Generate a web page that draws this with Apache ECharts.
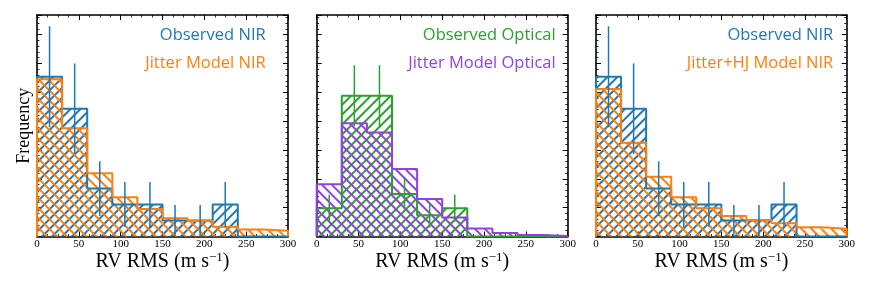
<!DOCTYPE html>
<html><head><meta charset="utf-8">
<script src="https://cdn.jsdelivr.net/npm/echarts@6/dist/echarts.min.js"></script>
<style>html,body{margin:0;padding:0;background:#fff}#c{width:872px;height:291px}</style>
</head><body><div id="c"></div>
<script>
// ---- data ----
const binEdges = [0, 30, 60, 90, 120, 150, 180, 210, 240, 270, 300];
const binLabels = ['0-30','30-60','60-90','90-120','120-150','150-180','180-210','210-240','240-270','270-300'];
const xTicks = [0, 50, 100, 150, 200, 250, 300];
const obsNIR      = [5.54, 4.43, 1.66, 1.11, 1.11, 0.554, 0.554, 1.11, 0, 0];
const obsNIRErr   = [1.75, 1.57, 0.95, 0.78, 0.78, 0.54, 0.54, 0.78, 0, 0];
const jitterNIR   = [5.45, 3.75, 2.19, 1.36, 0.95, 0.63, 0.54, 0.34, 0.24, 0.20];
const obsOpt      = [0.98, 4.88, 4.88, 1.47, 0.735, 0.98, 0, 0, 0, 0];
const obsOptErr   = [0.47, 1.06, 1.06, 0.58, 0.43, 0.47, 0, 0, 0, 0];
const jitterOpt   = [1.81, 3.93, 3.61, 2.34, 1.30, 0.66, 0.28, 0.12, 0.05, 0.02];
const jitterHJNIR = [5.11, 3.25, 2.07, 1.36, 0.98, 0.71, 0.57, 0.46, 0.32, 0.27];
const legendTexts = [
  ['Observed NIR', 'Jitter Model NIR'],
  ['Observed Optical', 'Jitter Model Optical'],
  ['Observed NIR', 'Jitter+HJ Model NIR']
];

// ---- style ----
const C_BLUE = '#1f77b4', C_ORANGE = '#ff7f0e', C_GREEN = '#2ca02c', C_PURPLE = '#9143e0';
const SERIF = 'Liberation Serif';
const SANS = 'Open Sans';
const Y_MAX = 7.68;
const grids = [
  {left: 37, top: 15, width: 251, height: 221.5},
  {left: 316.7, top: 15, width: 251, height: 221.5},
  {left: 596, top: 15, width: 250.7, height: 221.5}
];
const panels = [
  {obs: obsNIR, err: obsNIRErr, model: jitterNIR, cObs: C_BLUE, cMod: C_ORANGE, textRight: 265.7},
  {obs: obsOpt, err: obsOptErr, model: jitterOpt, cObs: C_GREEN, cMod: C_PURPLE, textRight: 555.7},
  {obs: obsNIR, err: obsNIRErr, model: jitterHJNIR, cObs: C_BLUE, cMod: C_ORANGE, textRight: 833.3}
];

function hatch(color, dir) {
  return {symbol: 'rect', symbolSize: 1, dashArrayX: [1, 0], dashArrayY: [1.5, 4.5],
          rotation: dir * Math.PI / 4, color: color};
}
function stepPts(vals) {
  const pts = [[binEdges[0], 0]];
  vals.forEach((v, i) => { pts.push([binEdges[i], v]); pts.push([binEdges[i + 1], v]); });
  pts.push([binEdges[binEdges.length - 1], 0]);
  return pts;
}
const frame = {show: true, onZero: false, lineStyle: {color: '#000', width: 1.6}};
const tickIn = {show: true, inside: true, length: 5, lineStyle: {color: '#000', width: 1}};
const minorIn = {show: true, length: 2.5, lineStyle: {color: '#000', width: 0.8}};

const xAxis = [], yAxis = [], series = [], graphic = [];
grids.forEach((g, p) => {
  xAxis.push({type: 'category', gridIndex: p, data: binLabels, show: false, boundaryGap: true});
});
grids.forEach((g, p) => {
  xAxis.push({type: 'value', gridIndex: p, position: 'bottom', min: xTicks[0], max: xTicks[xTicks.length - 1],
    interval: xTicks[1] - xTicks[0], axisLine: frame, axisTick: tickIn,
    minorTick: Object.assign({splitNumber: 4}, minorIn), splitLine: {show: false},
    axisLabel: {show: true, margin: 2, fontFamily: SERIF, fontSize: 11, color: '#000'},
    name: '{a|RV RMS (m s}{b|\u22121}{a|)}', nameLocation: 'middle', nameGap: 14.5, nameMoveOverlap: false,
    nameTextStyle: {rich: {
      a: {fontFamily: SERIF, fontSize: 20, color: '#000', lineHeight: 22},
      b: {fontFamily: SERIF, fontSize: 13, color: '#000', verticalAlign: 'top', lineHeight: 13}
    }}});
});
grids.forEach((g, p) => {
  xAxis.push({type: 'value', gridIndex: p, position: 'top', min: xTicks[0], max: xTicks[xTicks.length - 1],
    interval: xTicks[1] - xTicks[0], axisLine: frame, axisTick: tickIn,
    minorTick: Object.assign({splitNumber: 4}, minorIn), splitLine: {show: false}, axisLabel: {show: false}});
});
grids.forEach((g, p) => {
  yAxis.push(Object.assign({type: 'value', gridIndex: p, position: 'left', min: 0, max: Y_MAX, interval: 1,
    axisLine: frame, axisTick: tickIn, minorTick: Object.assign({splitNumber: 5}, minorIn),
    splitLine: {show: false}, axisLabel: {show: false}},
    p === 0 ? {name: 'Frequency', nameLocation: 'middle', nameGap: 4,
      nameTextStyle: {fontFamily: SERIF, fontSize: 18, color: '#000'}} : {}));
});
grids.forEach((g, p) => {
  yAxis.push({type: 'value', gridIndex: p, position: 'right', min: 0, max: Y_MAX, interval: 1,
    axisLine: frame, axisTick: tickIn, minorTick: Object.assign({splitNumber: 5}, minorIn),
    splitLine: {show: false}, axisLabel: {show: false}});
});

const centers = binEdges.slice(0, -1).map((e, i) => (e + binEdges[i + 1]) / 2);

panels.forEach((P, p) => {
  series.push({type: 'bar', xAxisIndex: p, yAxisIndex: p, data: P.obs, barWidth: '100%', barGap: '-100%',
    barCategoryGap: 0, silent: true, z: 1, itemStyle: {color: 'rgba(0,0,0,0)', decal: hatch(P.cObs, -1)}});
  series.push({type: 'bar', xAxisIndex: p, yAxisIndex: p, data: P.model, barWidth: '100%', barGap: '-100%',
    barCategoryGap: 0, silent: true, z: 1, itemStyle: {color: 'rgba(0,0,0,0)', decal: hatch(P.cMod, 1)}});
  series.push({type: 'line', xAxisIndex: 3 + p, yAxisIndex: p, data: stepPts(P.obs), symbol: 'none',
    silent: true, z: 3, lineStyle: {color: P.cObs, width: 2}});
  series.push({type: 'line', xAxisIndex: 3 + p, yAxisIndex: p, data: stepPts(P.model), symbol: 'none',
    silent: true, z: 4, lineStyle: {color: P.cMod, width: 2}});
  series.push({type: 'custom', xAxisIndex: 3 + p, yAxisIndex: p, silent: true, z: 5,
    data: centers.map((c, i) => [c, P.obs[i], P.err[i]]).filter(d => d[2] > 0),
    renderItem: (params, api) => {
      const x = api.value(0), y = api.value(1), e = api.value(2);
      const a = api.coord([x, y - e]), b = api.coord([x, y + e]);
      return {type: 'line', shape: {x1: a[0], y1: a[1], x2: b[0], y2: b[1]},
        style: {stroke: P.cObs, lineWidth: 1.5}};
    }});
  graphic.push({type: 'text', x: P.textRight, y: 35.5, style: {text: legendTexts[p][0], fill: P.cObs,
    font: '16.5px "' + SANS + '"', align: 'right', verticalAlign: 'middle'}});
  graphic.push({type: 'text', x: P.textRight, y: 63.3, style: {text: legendTexts[p][1], fill: P.cMod,
    font: '16.5px "' + SANS + '"', align: 'right', verticalAlign: 'middle'}});
});

const chart = echarts.init(document.getElementById('c'), null, {renderer: 'canvas'});
chart.setOption({animation: false, grid: grids, xAxis: xAxis, yAxis: yAxis, series: series, graphic: graphic});
</script>
</body></html>
